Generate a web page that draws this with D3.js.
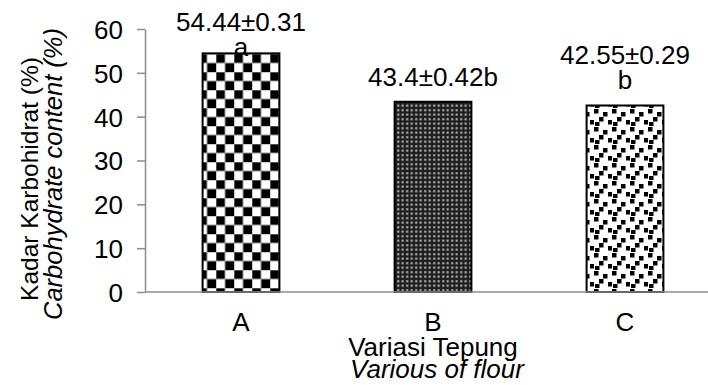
<!DOCTYPE html>
<html>
<head>
<meta charset="utf-8">
<script src="https://cdn.jsdelivr.net/npm/d3@7"></script>
<style>
  body { margin: 0; background: #fff; }
  svg text { font-family: "Liberation Sans", Arial, sans-serif; fill: #000; }
</style>
</head>
<body>
<div id="chart"></div>
<script>
// data
const categories = ["A", "B", "C"];
const values = [54.44, 43.4, 42.55];
const labels = [["54.44\u00b10.31", "a"], ["43.4\u00b10.42b"], ["42.55\u00b10.29", "b"]];
const patterns = ["checker", "grid", "confetti"];
const yTicks = [0, 10, 20, 30, 40, 50, 60];

const W = 708, H = 385;
const margin = {left: 145, top: 29, bottom: 93};
const axisGray = "#8c8c8c";
const fs = 26;

const svg = d3.select("#chart").append("svg")
  .attr("width", W)
  .attr("height", H);

// fill patterns
const defs = svg.append("defs");

const checker = defs.append("pattern")
  .attr("id", "checker")
  .attr("patternUnits", "userSpaceOnUse")
  .attr("width", 18).attr("height", 18);
checker.append("rect").attr("width", 18).attr("height", 18).attr("fill", "#fff");
checker.append("rect").attr("width", 9).attr("height", 9).attr("fill", "#000");
checker.append("rect").attr("x", 9).attr("y", 9).attr("width", 9).attr("height", 9).attr("fill", "#000");
checker.append("path").attr("d", "M0,0H18M0,9H18M0,0V18M9,0V18")
  .attr("stroke", "#999").attr("stroke-width", 1);

const grid = defs.append("pattern")
  .attr("id", "grid")
  .attr("patternUnits", "userSpaceOnUse")
  .attr("width", 4.5).attr("height", 4.5);
grid.append("rect").attr("width", 4.5).attr("height", 4.5).attr("fill", "#1e1e1e");
grid.append("rect").attr("x", 1.2).attr("y", 1.2).attr("width", 2).attr("height", 2).attr("fill", "#c8c8c8");

const confetti = defs.append("pattern")
  .attr("id", "confetti")
  .attr("patternUnits", "userSpaceOnUse")
  .attr("width", 18).attr("height", 18);
confetti.append("rect").attr("width", 18).attr("height", 18).attr("fill", "#fff");
[[0, 1], [9, 4], [5, 9], [14, 12], [1, 14]].forEach(function (p) {
  confetti.append("rect").attr("x", p[0]).attr("y", p[1])
    .attr("width", 4.5).attr("height", 4.5).attr("fill", "#000");
});

const x = d3.scaleBand()
  .domain(categories)
  .range([margin.left, margin.left + 576])
  .paddingInner(0.6)
  .paddingOuter(0.3);

const y = d3.scaleLinear()
  .domain([0, 60])
  .range([H - margin.bottom, margin.top]);

// y axis
const yAxis = svg.append("g")
  .attr("transform", "translate(" + margin.left + ",0)")
  .call(d3.axisLeft(y).tickValues(yTicks).tickSize(8).tickPadding(14).tickSizeOuter(0));
yAxis.select(".domain").attr("stroke", axisGray).attr("stroke-width", 1.5);
yAxis.selectAll(".tick line").attr("stroke", axisGray).attr("stroke-width", 1.5);
yAxis.selectAll(".tick text")
  .attr("font-size", fs)
  .attr("dy", "0.36em")
  .style("font-family", "Liberation Sans, Arial, sans-serif");

// bars
svg.append("g").selectAll("rect")
  .data(categories)
  .join("rect")
  .attr("x", function (d) { return x(d); })
  .attr("y", function (d, i) { return y(values[i]); })
  .attr("width", x.bandwidth())
  .attr("height", function (d, i) { return y(0) - y(values[i]); })
  .attr("fill", function (d, i) { return "url(#" + patterns[i] + ")"; })
  .attr("stroke", "#000")
  .attr("stroke-width", 2);

// x axis line (no ticks)
svg.append("line")
  .attr("x1", margin.left).attr("x2", W)
  .attr("y1", y(0)).attr("y2", y(0))
  .attr("stroke", axisGray).attr("stroke-width", 1.5);

// category labels
svg.append("g").selectAll("text")
  .data(categories)
  .join("text")
  .attr("x", function (d) { return x(d) + x.bandwidth() / 2; })
  .attr("y", y(0) + 39)
  .attr("text-anchor", "middle")
  .attr("font-size", fs)
  .text(function (d) { return d; });

// value labels above bars (clamped at the top like the original)
const lineH = 25;
categories.forEach(function (c, i) {
  const lines = labels[i];
  let y0 = y(values[i]) - 16 - (lines.length - 1) * lineH;
  y0 = Math.max(y0, 31);
  const t = svg.append("text")
    .attr("text-anchor", "middle")
    .attr("font-size", fs);
  lines.forEach(function (s, k) {
    t.append("tspan")
      .attr("x", x(c) + x.bandwidth() / 2)
      .attr("y", y0 + k * lineH)
      .text(s);
  });
});

// axis titles
svg.append("text")
  .attr("x", 433).attr("y", 356)
  .attr("text-anchor", "middle")
  .attr("font-size", fs)
  .text("Variasi Tepung");
svg.append("text")
  .attr("x", 437).attr("y", 378)
  .attr("text-anchor", "middle")
  .attr("font-size", fs)
  .attr("font-style", "italic")
  .text("Various of flour");

svg.append("text")
  .attr("transform", "translate(38,179) rotate(-90)")
  .attr("text-anchor", "middle")
  .attr("font-size", 24.5)
  .text("Kadar Karbohidrat (%)");
svg.append("text")
  .attr("transform", "translate(62,174) rotate(-90)")
  .attr("text-anchor", "middle")
  .attr("font-size", 25.5)
  .attr("font-style", "italic")
  .text("Carbohydrate content (%)");
</script>
</body>
</html>
